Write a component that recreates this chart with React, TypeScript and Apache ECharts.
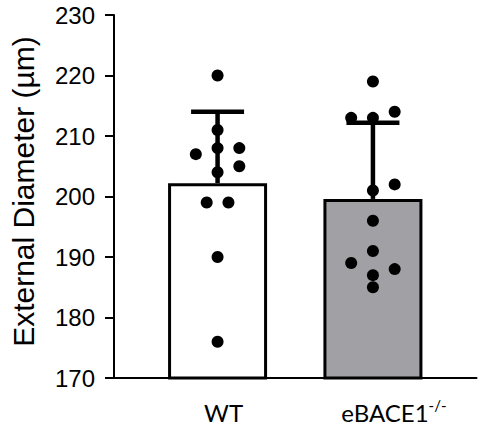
import React, { useEffect, useRef } from "react";
import * as echarts from "echarts";

const categories = ["WT", "eBACE1"];
const categoryX = [1, 2];
const means = [202.2, 199.6];
const upperSD = [214.0, 212.2];
const barColors = ["#ffffff", "#a1a1a5"];

const wtValues = [220, 211, 207, 208, 208, 205, 204, 199, 199, 190, 176];
const wtOffsets = [0, 0, -0.14, 0, 0.14, 0.14, 0, -0.07, 0.07, 0, 0];
const koValues = [219, 213, 213, 214, 202, 201, 196, 191, 189, 188, 187, 185];
const koOffsets = [0, -0.14, 0, 0.14, 0.14, 0, 0, 0, -0.14, 0.14, 0, 0];

const yTicks = { min: 170, max: 230, interval: 10 };
const sansFont = "Arial, 'Liberation Sans', sans-serif";

export default function App() {
  const ref = useRef<HTMLDivElement>(null);
  useEffect(() => {
    if (!ref.current) return;
    const chart = echarts.init(ref.current, null, { renderer: "svg" });
    const dots: number[][] = [];
    wtValues.forEach((v, i) => dots.push([categoryX[0] + wtOffsets[i], v]));
    koValues.forEach((v, i) => dots.push([categoryX[1] + koOffsets[i], v]));

    chart.setOption({
      animation: false,
      grid: { left: 109, right: 1.5, top: 15, bottom: 52, containLabel: false },
      xAxis: {
        type: "value",
        min: 1 / 3,
        max: 8 / 3,
        splitLine: { show: false },
        axisTick: { show: false },
        axisLine: { show: true, lineStyle: { color: "#000", width: 2 } },
        axisLabel: {
          show: true,
          customValues: categoryX,
          margin: 19,
          formatter: (val: number) => {
            const idx = Math.round(val) - 1;
            if (idx === 0) return "{g1|}{main|" + categories[0] + "}";
            if (idx === 1) return "{g2|}{main|" + categories[1] + "}{sup|-/-}";
            return "";
          },
          rich: {
            g1: { width: 12 },
            g2: { width: 42 },
            main: {
              fontFamily: "Lato",
              fontSize: 24,
              color: "#000",
              lineHeight: 30,
            },
            sup: {
              fontFamily: "Lato",
              fontSize: 15,
              color: "#000",
              verticalAlign: "top",
              lineHeight: 13,
            },
          },
        },
      },
      yAxis: {
        type: "value",
        min: yTicks.min,
        max: yTicks.max,
        interval: yTicks.interval,
        name: "External Diameter (µm)",
        nameLocation: "middle",
        nameRotate: 90,
        nameGap: 76,
        nameTextStyle: {
          fontFamily: sansFont,
          fontSize: 30,
          color: "#000",
          padding: [0, 0, 0, 10],
        },
        splitLine: { show: false },
        axisLine: { show: true, lineStyle: { color: "#000", width: 2 } },
        axisTick: { show: true, length: 9, lineStyle: { color: "#000", width: 2 } },
        axisLabel: {
          margin: 19,
          fontFamily: sansFont,
          fontSize: 24,
          lineHeight: 22,
          color: "#000",
        },
      },
      series: [
        {
          type: "bar",
          barWidth: 99,
          z: 1,
          data: categoryX.map((x, i) => ({
            value: [x, means[i]],
            itemStyle: { color: barColors[i], borderColor: "#000", borderWidth: 3 },
          })),
        },
        {
          type: "custom",
          z: 3,
          data: categoryX.map((x, i) => [x, means[i], upperSD[i]]),
          renderItem: (params: any, api: any) => {
            const x = api.value(0);
            const p0 = api.coord([x, api.value(1)]);
            const p1 = api.coord([x, api.value(2)]);
            return {
              type: "group",
              children: [
                {
                  type: "line",
                  shape: { x1: p0[0], y1: p0[1], x2: p1[0], y2: p1[1] },
                  style: { stroke: "#000", lineWidth: 4.5 },
                },
                {
                  type: "line",
                  shape: { x1: p1[0] - 26.5, y1: p1[1], x2: p1[0] + 26.5, y2: p1[1] },
                  style: { stroke: "#000", lineWidth: 4.5 },
                },
              ],
            };
          },
        },
        {
          type: "scatter",
          z: 5,
          symbol: "circle",
          symbolSize: 12,
          itemStyle: { color: "#000", opacity: 1 },
          data: dots,
        },
      ],
    });
    return () => chart.dispose();
  }, []);
  return (
    <div
      ref={ref}
      style={{ position: "fixed", left: 0, top: 0, width: 478, height: 430, background: "#fff" }}
    />
  );
}
